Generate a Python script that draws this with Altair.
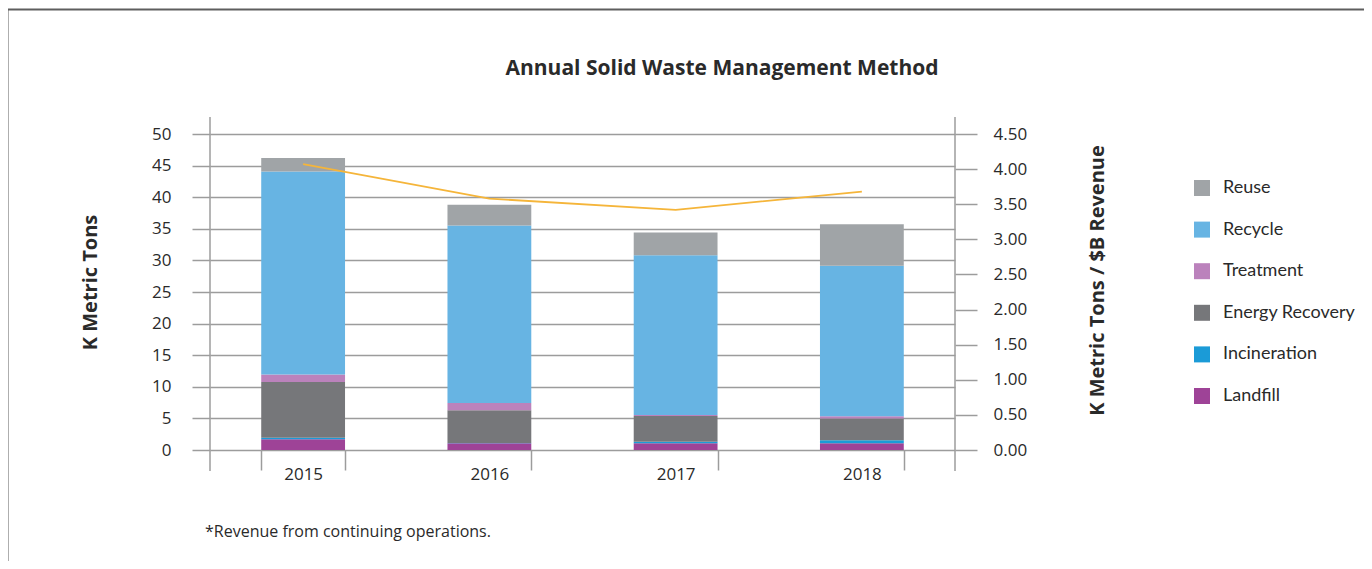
import altair as alt
import pandas as pd

years = ["2015", "2016", "2017", "2018"]
methods = ["Reuse", "Recycle", "Treatment", "Energy Recovery", "Incineration", "Landfill"]
colors = ["#A0A4A7", "#67B4E3", "#BB82BC", "#76777A", "#1B9BD7", "#9E4397"]

landfill = [1.7, 1.05, 1.05, 1.05]
incineration = [0.25, 0.05, 0.25, 0.5]
energy_recovery = [8.8, 5.17, 4.07, 3.45]
treatment = [1.2, 1.16, 0.15, 0.35]
recycle = [32.1, 28.1, 25.3, 23.8]
reuse = [2.15, 3.27, 3.6, 6.56]

intensity = [4.07, 3.58, 3.42, 3.68]

series = {
    "Landfill": landfill,
    "Incineration": incineration,
    "Energy Recovery": energy_recovery,
    "Treatment": treatment,
    "Recycle": recycle,
    "Reuse": reuse,
}
stack_order = ["Landfill", "Incineration", "Energy Recovery", "Treatment", "Recycle", "Reuse"]

rows = []
for m in stack_order:
    for y, v in zip(years, series[m]):
        rows.append({"Year": y, "Method": m, "Value": v, "Order": stack_order.index(m)})
bars_df = pd.DataFrame(rows)
line_df = pd.DataFrame({"Year": years, "Intensity": intensity})

W, H = 745, 316
GRID = "#9C9C9C"
TXT = "#2A2A2A"
FONT = "Lato"
BOLD_FONT = "Open Sans"
NUM_FONT = "Open Sans"

xscale = alt.Scale(paddingInner=0.55, paddingOuter=0.275)
xaxis = alt.Axis(
    title=None, labelAngle=0, domain=False, tickBand="extent", tickSize=20,
    tickColor=GRID, tickWidth=1.5, labelPadding=-4, labelFontSize=17,
    labelFont=NUM_FONT, labelColor=TXT, grid=False,
)

bars = alt.Chart(bars_df).mark_bar().encode(
    x=alt.X("Year:N", scale=xscale, axis=xaxis, sort=years),
    y=alt.Y(
        "Value:Q", stack="zero",
        scale=alt.Scale(domain=[0, 50], nice=False),
        axis=alt.Axis(
            title="K Metric Tons", values=list(range(0, 55, 5)), domain=False,
            tickSize=18, tickColor=GRID, tickWidth=1.5, labelPadding=21,
            grid=True, gridColor=GRID, gridWidth=1.5,
            labelFontSize=17, labelFont=NUM_FONT, labelColor=TXT,
            titleFont=BOLD_FONT, titleFontSize=20, titleFontWeight="bold", titleColor=TXT,
            titleAngle=270, titleX=-120, titleY=148, titleAlign="center", titleBaseline="middle",
        ),
    ),
    color=alt.Color(
        "Method:N",
        scale=alt.Scale(domain=methods, range=colors),
        legend=alt.Legend(
            title=None, orient="none", legendX=983, legendY=45,
            symbolType="square", symbolSize=256, symbolStrokeWidth=0,
            labelFont=FONT, labelFontSize=18, labelColor=TXT, labelOffset=12,
            rowPadding=23.6,
        ),
    ),
    order=alt.Order("Order:Q", sort="ascending"),
)

line = alt.Chart(line_df).mark_line(color="#F5B53A", strokeWidth=1.8).encode(
    x=alt.X("Year:N", scale=xscale, axis=xaxis, sort=years),
    y=alt.Y(
        "Intensity:Q",
        scale=alt.Scale(domain=[0, 4.5], nice=False),
        axis=alt.Axis(
            orient="right", title="K Metric Tons / $B Revenue",
            values=[0, 0.5, 1, 1.5, 2, 2.5, 3, 3.5, 4, 4.5], format=".2f",
            domain=False, grid=False, tickSize=22, tickColor=GRID, tickWidth=1.5,
            labelPadding=16, labelFontSize=17, labelFont=NUM_FONT, labelColor=TXT,
            titleFont=BOLD_FONT, titleFontSize=20, titleFontWeight="bold", titleColor=TXT,
            titleAngle=270, titleX=142, titleY=146, titleAlign="center", titleBaseline="middle",
        ),
    ),
)

one = alt.Data(values=[{"a": 1}])

frame = alt.Chart(one).mark_rect(fill="transparent", stroke="#5E5E5E", strokeWidth=2).encode(
    x=alt.value(-202.5), x2=alt.value(W + 600), y=alt.value(-124.5), y2=alt.value(H + 400)
)
vlines = alt.Chart(pd.DataFrame({"px": [0, W]})).mark_rule(color=GRID, strokeWidth=1.5).encode(
    x=alt.X("px:Q", scale=None), y=alt.value(-17), y2=alt.value(H + 21)
)
title = alt.Chart(one).mark_text(
    text="Annual Solid Waste Management Method", font=BOLD_FONT, fontSize=21,
    fontWeight="bold", color=TXT, align="center", baseline="middle",
).encode(x=alt.value(512), y=alt.value(-65))
foot = alt.Chart(one).mark_text(
    text="*Revenue from continuing operations.", font=NUM_FONT, fontSize=16,
    color=TXT, align="left", baseline="middle",
).encode(x=alt.value(-5), y=alt.value(398))

chart = alt.layer(frame, vlines, bars, line, title, foot).resolve_scale(
    y="independent"
).properties(
    width=W, height=H,
    autosize=alt.AutoSizeParams(type="none"),
    padding={"left": 202, "top": 126, "right": 409, "bottom": 111},
).configure_view(stroke=None)

chart.save("out.html", embed_options={"renderer": "svg", "actions": False})
